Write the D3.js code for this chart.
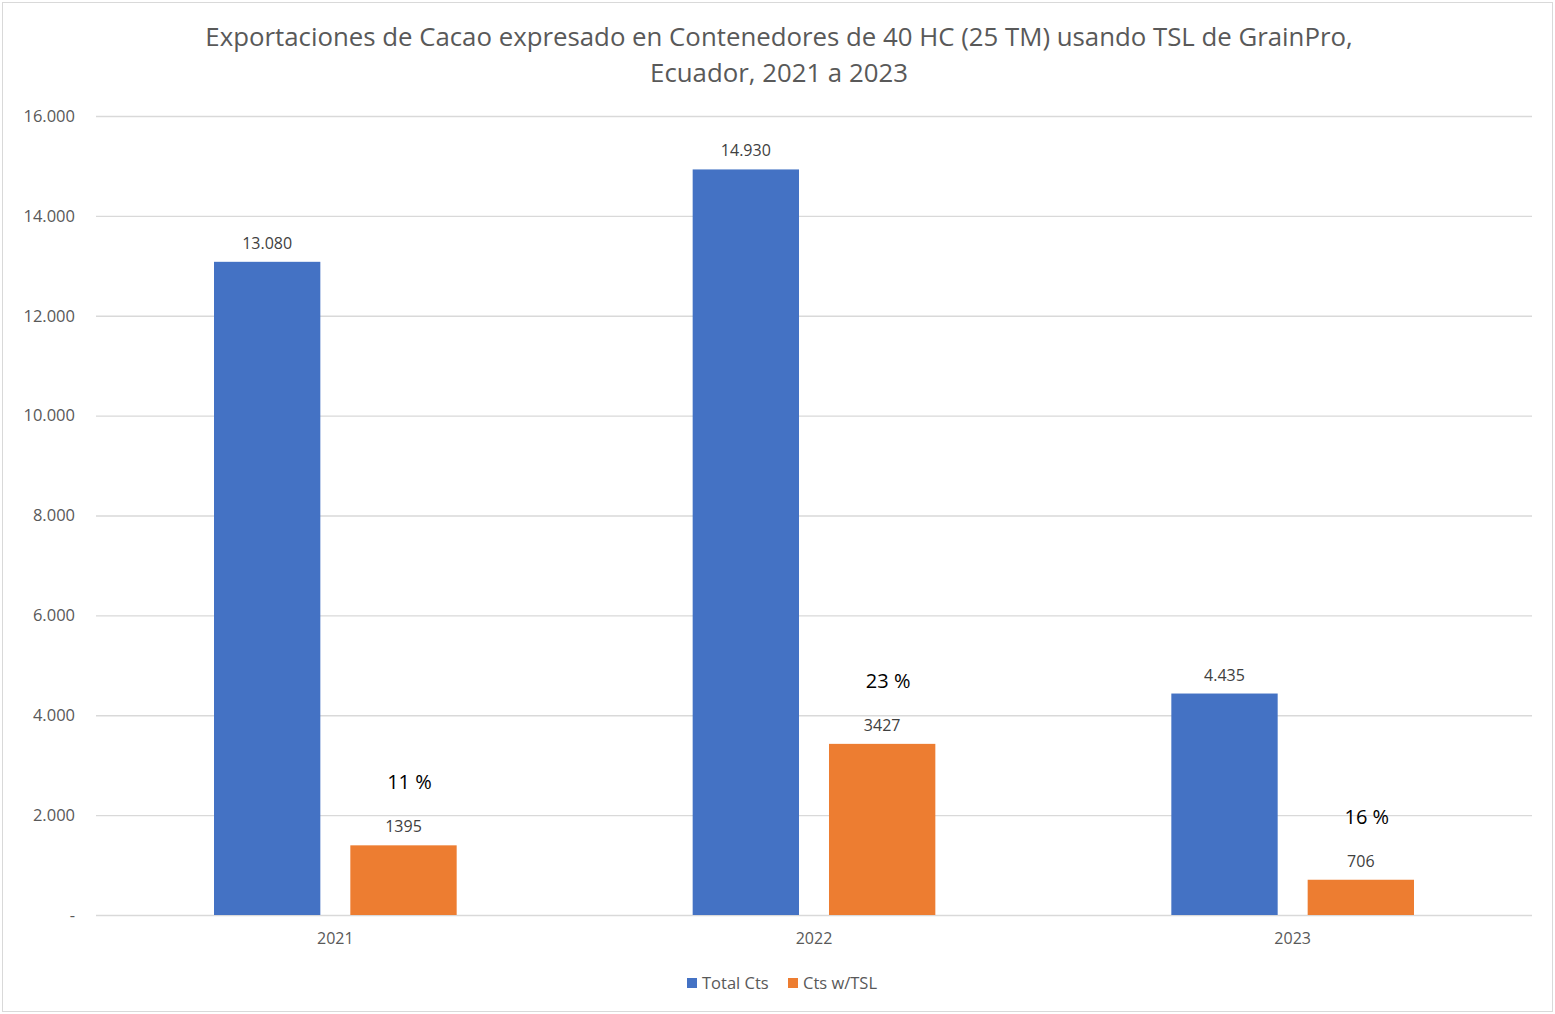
<!DOCTYPE html>
<html>
<head>
<meta charset="utf-8">
<script src="https://cdn.jsdelivr.net/npm/d3@7"></script>
<style>
  body { margin: 0; background: #fff; }
  text { font-family: "Open Sans", "Noto Sans", sans-serif; }
</style>
</head>
<body>
<div id="chart"></div>
<script>
// data
var years = ["2021", "2022", "2023"];
var totalCts = [13080, 14930, 4435];
var tslCts = [1395, 3427, 706];
var shares = ["11 %", "23 %", "16 %"];
var yTicks = [0, 2000, 4000, 6000, 8000, 10000, 12000, 14000, 16000];
var seriesNames = ["Total Cts", "Cts w/TSL"];
var seriesColors = ["#4472C4", "#ED7D31"];

var width = 1555, height = 1014;
var margin = {top: 116, right: 23, bottom: 99, left: 96};

var svg = d3.select("#chart").append("svg")
    .attr("width", width)
    .attr("height", height);

// outer frame
svg.append("rect")
    .attr("x", 2.5).attr("y", 2.5)
    .attr("width", width - 5).attr("height", height - 5)
    .attr("fill", "#fff").attr("stroke", "#d9d9d9");

// title
var title = svg.append("text")
    .attr("text-anchor", "middle")
    .attr("fill", "#595959")
    .style("font-size", "25.8px");
title.append("tspan").attr("x", 779).attr("y", 46)
    .text("Exportaciones de Cacao expresado en Contenedores  de 40 HC (25 TM) usando TSL de GrainPro,");
title.append("tspan").attr("x", 779).attr("y", 82)
    .text("Ecuador, 2021 a 2023");

var x0 = d3.scaleBand()
    .domain(years)
    .range([margin.left, width - margin.right]);

var x1 = d3.scaleBand()
    .domain(seriesNames)
    .range([118, x0.bandwidth() - 118])
    .paddingInner(0.22);

var y = d3.scaleLinear()
    .domain([0, 16000])
    .range([height - margin.bottom, margin.top]);

var fmt = d3.formatLocale({decimal: ",", thousands: ".", grouping: [3], currency: ["", ""]}).format(",d");

// gridlines + y labels
var yAxis = svg.append("g")
    .attr("transform", "translate(" + margin.left + ",0)")
    .call(d3.axisLeft(y).tickValues(yTicks)
        .tickSize(-(width - margin.left - margin.right))
        .tickPadding(21)
        .tickFormat(function(d) { return d === 0 ? "-" : fmt(d); }));
yAxis.select(".domain").remove();
yAxis.selectAll(".tick line").attr("stroke", "#d9d9d9").attr("stroke-width", 1.3);
yAxis.selectAll(".tick text")
    .attr("fill", "#595959")
    .style("font-size", "16.5px")
    .style("font-family", "'Open Sans', sans-serif");

// x labels
var xAxis = svg.append("g")
    .attr("transform", "translate(0," + (height - margin.bottom) + ")")
    .call(d3.axisBottom(x0).tickSize(0).tickPadding(18));
xAxis.select(".domain").remove();
xAxis.selectAll(".tick text")
    .attr("fill", "#595959")
    .style("font-size", "16px")
    .style("font-family", "'Open Sans', sans-serif");

var rows = years.map(function(yr, i) {
  return {year: yr, share: shares[i], values: [
    {name: seriesNames[0], value: totalCts[i]},
    {name: seriesNames[1], value: tslCts[i]}
  ]};
});

var color = d3.scaleOrdinal().domain(seriesNames).range(seriesColors);

var groups = svg.append("g").selectAll("g")
    .data(rows)
    .join("g")
    .attr("transform", function(d) { return "translate(" + x0(d.year) + ",0)"; });

groups.selectAll("rect")
    .data(function(d) { return d.values; })
    .join("rect")
    .attr("x", function(d) { return x1(d.name); })
    .attr("y", function(d) { return y(d.value); })
    .attr("width", x1.bandwidth())
    .attr("height", function(d) { return y(0) - y(d.value); })
    .attr("fill", function(d) { return color(d.name); });

groups.selectAll("text.val")
    .data(function(d) { return d.values; })
    .join("text")
    .attr("class", "val")
    .attr("x", function(d) { return x1(d.name) + x1.bandwidth() / 2; })
    .attr("y", function(d) { return y(d.value) - 13; })
    .attr("text-anchor", "middle")
    .attr("fill", "#404040")
    .style("font-size", "16px")
    .text(function(d) { return d.name === seriesNames[0] ? fmt(d.value) : d.value; });

// share annotations above the orange bars
groups.append("text")
    .attr("x", function(d) { return x1(seriesNames[1]) + x1.bandwidth() / 2 + 6; })
    .attr("y", function(d) { return y(d.values[1].value) - 56; })
    .attr("text-anchor", "middle")
    .attr("fill", "#000")
    .style("font-size", "20px")
    .text(function(d) { return d.share; });

// legend
var legend = svg.append("g").attr("transform", "translate(687,983)");
var items = legend.selectAll("g")
    .data(seriesNames)
    .join("g")
    .attr("transform", function(d, i) { return "translate(" + (i * 101) + ",0)"; });
items.append("rect")
    .attr("x", 0).attr("y", -5)
    .attr("width", 10).attr("height", 10)
    .attr("fill", function(d) { return color(d); });
items.append("text")
    .attr("x", 15).attr("y", 6)
    .attr("fill", "#595959")
    .style("font-size", "16.5px")
    .text(function(d) { return d; });
</script>
</body>
</html>
